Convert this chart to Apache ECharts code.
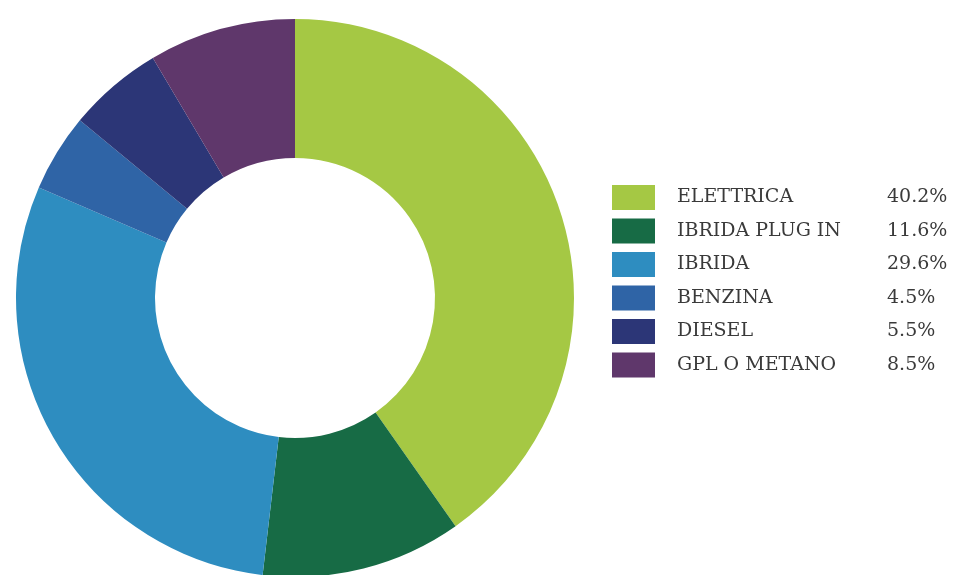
<!DOCTYPE html>
<html>
<head>
<meta charset="utf-8">
<script src="https://cdn.jsdelivr.net/npm/echarts@6/dist/echarts.min.js"></script>
<style>
  html, body { margin: 0; padding: 0; background: #fff; }
  #chart { width: 967px; height: 575px; }
</style>
</head>
<body>
<div id="chart"></div>
<script>
// Fuel type shares (percent)
const categories = ['ELETTRICA', 'IBRIDA PLUG IN', 'IBRIDA', 'BENZINA', 'DIESEL', 'GPL O METANO'];
const shares = [40.2, 11.6, 29.6, 4.5, 5.5, 8.5];
const sliceColors = ['#A5C844', '#176B45', '#2E8DC0', '#2F64A6', '#2C3677', '#5F376B'];

const chart = echarts.init(document.getElementById('chart'), null, { renderer: 'canvas' });

const shareByName = {};
categories.forEach((c, i) => { shareByName[c] = shares[i]; });

const textFont = { fontFamily: 'DejaVu Serif', fontSize: 19, color: '#3a3a3a' };

chart.setOption({
  animation: false,
  backgroundColor: '#ffffff',
  color: sliceColors,
  legend: {
    orient: 'vertical',
    left: 607,
    top: 180,
    itemWidth: 43,
    itemHeight: 25,
    itemGap: 8.5,
    icon: 'rect',
    selectedMode: false,
    data: categories,
    formatter: name => '{n|' + name + '}{v|' + shareByName[name].toFixed(1) + '%}',
    textStyle: {
      padding: [0, 0, 0, 17],
      rich: {
        n: Object.assign({ width: 210 }, textFont),
        v: Object.assign({}, textFont)
      }
    }
  },
  series: [{
    type: 'pie',
    center: [295, 298],
    radius: [140, 279],
    startAngle: 90,
    clockwise: true,
    label: { show: false },
    labelLine: { show: false },
    emphasis: { disabled: true },
    itemStyle: { borderWidth: 0 },
    data: categories.map((c, i) => ({ name: c, value: shares[i] }))
  }]
});
</script>
</body>
</html>
